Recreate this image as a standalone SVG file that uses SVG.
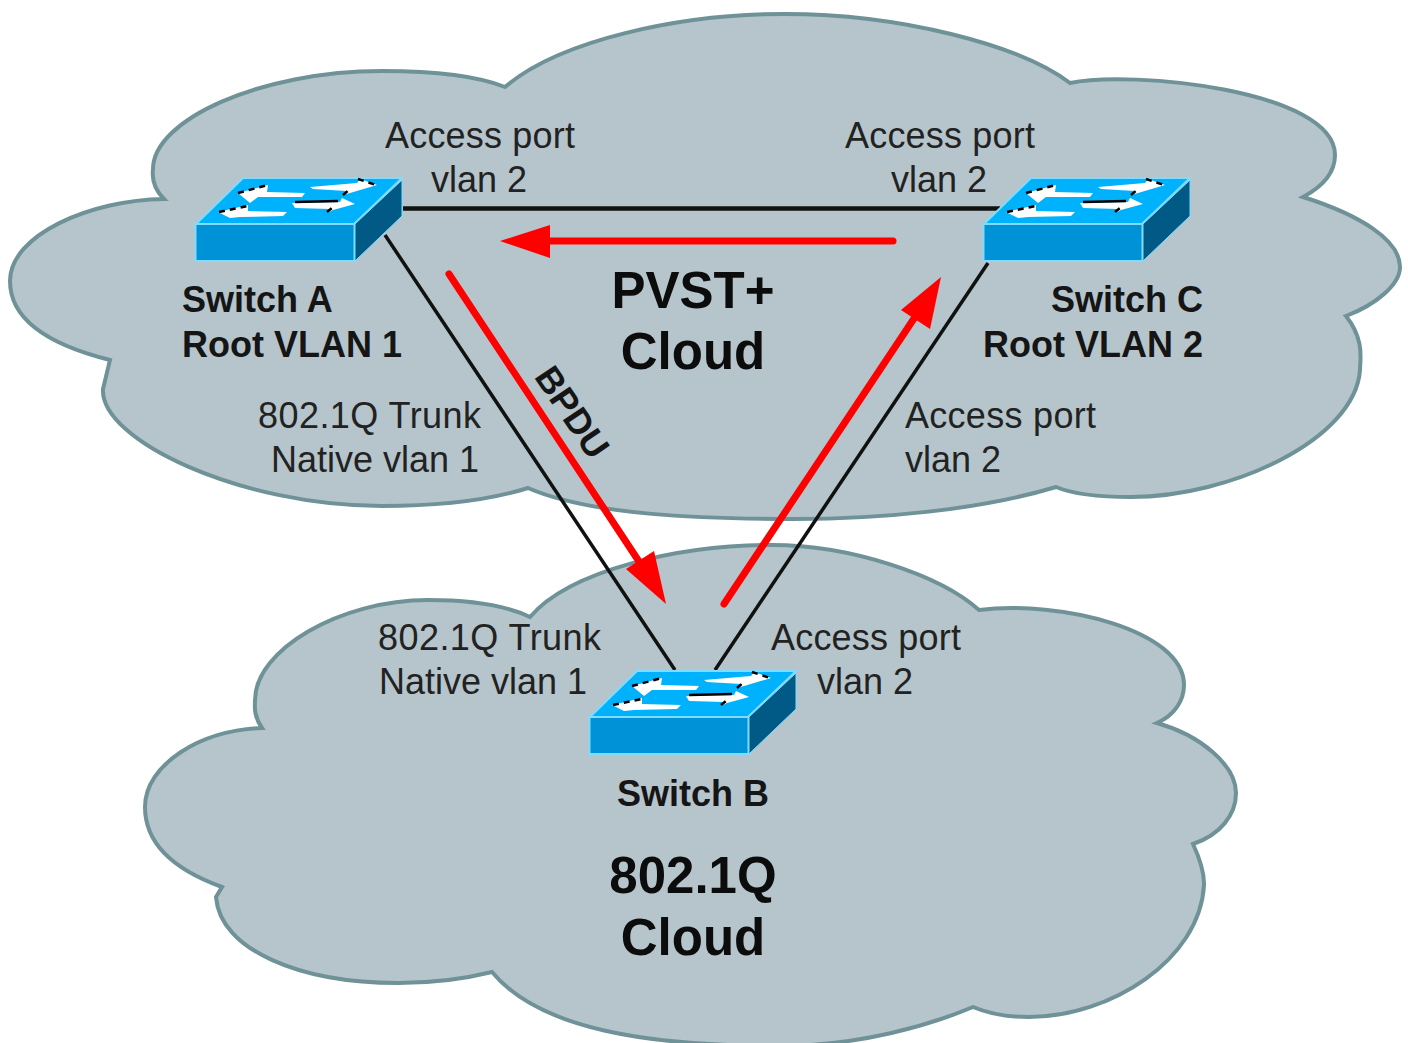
<svg xmlns="http://www.w3.org/2000/svg" xmlns:xlink="http://www.w3.org/1999/xlink" width="1408" height="1043" viewBox="0 0 1408 1043">
<style>
.cloud{fill:#b5c5cb;stroke:#6f9298;stroke-width:4;stroke-linejoin:miter}
.l{font-family:"Liberation Sans",Arial,sans-serif;font-size:36px;fill:#222}
.b{font-family:"Liberation Sans",Arial,sans-serif;font-size:36px;font-weight:bold;fill:#151515}
.h{font-family:"Liberation Sans",Arial,sans-serif;font-size:51px;font-weight:bold;fill:#0c0c0c}
.m{text-anchor:middle}.e{text-anchor:end}
.link{stroke:#111;stroke-width:3.5;fill:none}
.red{stroke:#ff0000;stroke-width:7;fill:none;stroke-linecap:round}
.head{fill:#ff0000}
.dots{stroke:#000;stroke-width:2.5;stroke-dasharray:6 5;fill:none}
</style>
<defs>
<g id="sw">
<polygon points="196,224 243,178 402,178 354,224" fill="#00b2fb" stroke="#7fdcff" stroke-width="2"/>
<rect x="195.500" y="224" width="159" height="37" fill="#0092d6" stroke="#7fdcff" stroke-width="2"/>
<polygon points="355,224 402,180 402,216 355,261" fill="#005a85" stroke="#7fdcff" stroke-width="1"/>
<polygon points="238,193 268,185 267,192 305,193 302,197 258,197 250,203" fill="#fff"/>
<polygon points="218,212 248,205 248,211 287,212 283,216 240,217 230,218" fill="#fff"/>
<polygon points="310,187 357,183 360,179 377,185 350,193 343,195 347,191 313,189" fill="#fff"/>
<polygon points="292,203 340,202 342,198 355,204 333,210 327,213 330,209 295,208" fill="#fff"/>
<path class="dots" d="M238,193L268,185M219,212L248,206M358,179L376,185M343,195L349,190M327,212L332,208"/>
<path d="M295,202L338,201" stroke="#000" stroke-width="2.500"/>
</g>
</defs>
<rect width="1408" height="1043" fill="#fff"/>
<g id="cloud-pvst">
<path class="cloud" d="M505,87C560,40 680,14 785,14C900,14 1020,45 1070,83C1130,70 1335,90 1335,155C1335,175 1320,188 1303,197C1360,215 1400,240 1400,267C1400,285 1375,305 1346,316C1365,340 1360,360 1360,370C1355,440 1230,497 1131,497C1100,497 1075,495 1056,487C980,510 880,519 794,519C700,519 590,515 528,488C490,500 440,506 382,506C240,506 100,440 103,389L110,360C50,345 10,320 10,281C10,235 90,200 164,199C150,185 153,170 153,169C153,120 260,71 382,71C430,71 475,75 505,87Z"/>
<text class="h m" x="693" y="308">PVST+</text>
<text class="h m" x="693" y="369">Cloud</text>
</g>
<g id="cloud-dot1q">
<path class="cloud" d="M530,617C570,570 680,545 772,545C850,545 940,575 979,610C1060,600 1184,630 1184,685C1184,700 1175,715 1157,723C1200,735 1236,765 1236,793C1236,815 1220,835 1193,844C1205,870 1204,880 1204,885C1200,960 1110,1017 1029,1017C1005,1017 985,1012 973,1007C930,1025 860,1046 780,1046C650,1046 540,1030 492,972C460,980 430,983 398,983C300,983 220,950 216,897L222,887C175,870 145,845 145,807C145,765 200,730 262,728C253,715 255,705 255,700C255,650 340,600 428,600C470,600 505,605 530,617Z"/>
<text class="h m" x="693" y="893">802.1Q</text>
<text class="h m" x="693" y="955">Cloud</text>
</g>
<g id="connectors">
<path class="link" style="stroke-width:4.500" d="M403,208.500H1000"/>
<path class="link" d="M385,235L675,670"/>
<path class="link" d="M988,263L715,670"/>
<path class="red" d="M893,241H540"/>
<polygon class="head" points="500,241 550,225 550,258"/>
<path class="red" d="M449,274L640,563"/>
<polygon class="head" points="666,604 626,569 654,551"/>
<path class="red" d="M724,604L915,317"/>
<polygon class="head" points="941,277 930,329 901,310"/>
<text class="b m" transform="translate(562,419) rotate(56)" font-weight="normal">BPDU</text>
</g>
<g id="switch-a">
<use href="#sw" xlink:href="#sw"/>
<text class="b" x="182" y="312">Switch A</text>
<text class="b" x="182" y="357">Root VLAN 1</text>
<text class="l" x="385" y="148" textLength="190">Access port</text>
<text class="l m" x="479" y="192">vlan 2</text>
<text class="l" x="258" y="428" textLength="223">802.1Q Trunk</text>
<text class="l e" x="479" y="472">Native vlan 1</text>
</g>
<g id="switch-c">
<use href="#sw" xlink:href="#sw" transform="translate(788,0)"/>
<text class="b e" x="1203" y="312">Switch C</text>
<text class="b e" x="1203" y="357">Root VLAN 2</text>
<text class="l" x="845" y="148" textLength="190">Access port</text>
<text class="l m" x="939" y="192">vlan 2</text>
<text class="l" x="905" y="428" textLength="191">Access port</text>
<text class="l" x="905" y="472">vlan 2</text>
</g>
<g id="switch-b">
<use href="#sw" xlink:href="#sw" transform="translate(394,493)"/>
<text class="b m" x="693" y="806">Switch B</text>
<text class="l" x="378" y="650" textLength="223">802.1Q Trunk</text>
<text class="l" x="379" y="694">Native vlan 1</text>
<text class="l" x="771" y="650" textLength="190">Access port</text>
<text class="l m" x="865" y="694">vlan 2</text>
</g>
</svg>
